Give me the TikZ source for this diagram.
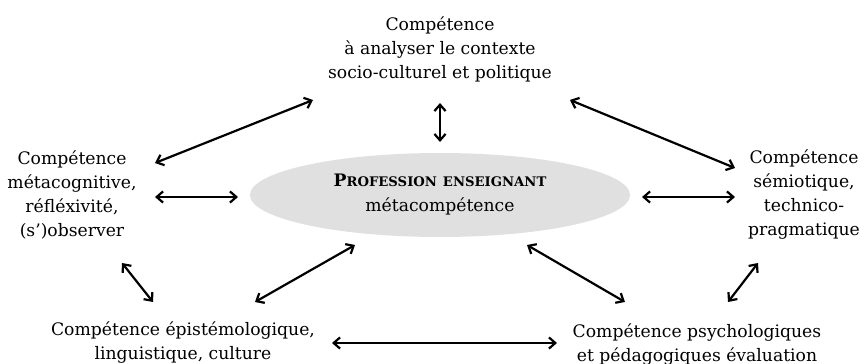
\documentclass[tikz,border=0pt]{standalone}
\usepackage{fontspec}
\setmainfont{DejaVu Serif}
\usetikzlibrary{arrows.meta,shapes.geometric}
\newcommand{\fakesc}[2]{#1{\fontsize{6.6}{8}\selectfont #2}}
\begin{document}
\begin{tikzpicture}[x=0.5pt,y=-0.5pt,
  lbl/.style={align=center,font=\fontsize{8.6}{12}\selectfont,inner sep=0pt},
  conn/.style={{Straight Barb[length=3.2pt,width=5.6pt]}-{Straight Barb[length=3.2pt,width=5.6pt]},line width=1.1pt},
  core/.style={ellipse,fill={rgb,255:red,224;green,224;blue,224},minimum width=190pt,minimum height=42pt,inner sep=0pt,align=center,font=\fontsize{8.6}{12.5}\selectfont}]
\useasboundingbox (0,0) rectangle (864,364);
\node[core] (c) at (440,195) {\textbf{\fakesc{P}{ROFESSION} \fakesc{}{ENSEIGNANT}}\\métacompétence};
\node[lbl] (t) at (440,49) {Compétence\\à analyser le contexte\\socio-culturel et politique};
\node[lbl] (l) at (72,195) {Compétence\\métacognitive,\\réfléxivité,\\(s’)observer};
\node[lbl] (r) at (804,195) {Compétence\\sémiotique,\\technico-\\pragmatique};
\node[lbl] (bl) at (183,343) {Compétence épistémologique,\\linguistique, culture};
\node[lbl] (br) at (697,345) {Compétence psychologiques\\et pédagogiques évaluation};
\coordinate (a1s) at (440,103); \coordinate (a1e) at (440,142);
\coordinate (a2s) at (155,163); \coordinate (a2e) at (313,100);
\coordinate (a3s) at (155,197); \coordinate (a3e) at (238,197);
\coordinate (a4s) at (122,263); \coordinate (a4e) at (153,302);
\coordinate (a5s) at (255,302); \coordinate (a5e) at (355,245);
\coordinate (a6s) at (570,100); \coordinate (a6e) at (735,168);
\coordinate (a7s) at (642,197); \coordinate (a7e) at (735,197);
\coordinate (a8s) at (527,245); \coordinate (a8e) at (625,302);
\coordinate (a9s) at (758,263); \coordinate (a9e) at (728,302);
\coordinate (a10s) at (332,343); \coordinate (a10e) at (557,343);
\foreach \i in {1,...,10} {\draw[conn] (a\i s) -- (a\i e);}
\end{tikzpicture}
\end{document}
